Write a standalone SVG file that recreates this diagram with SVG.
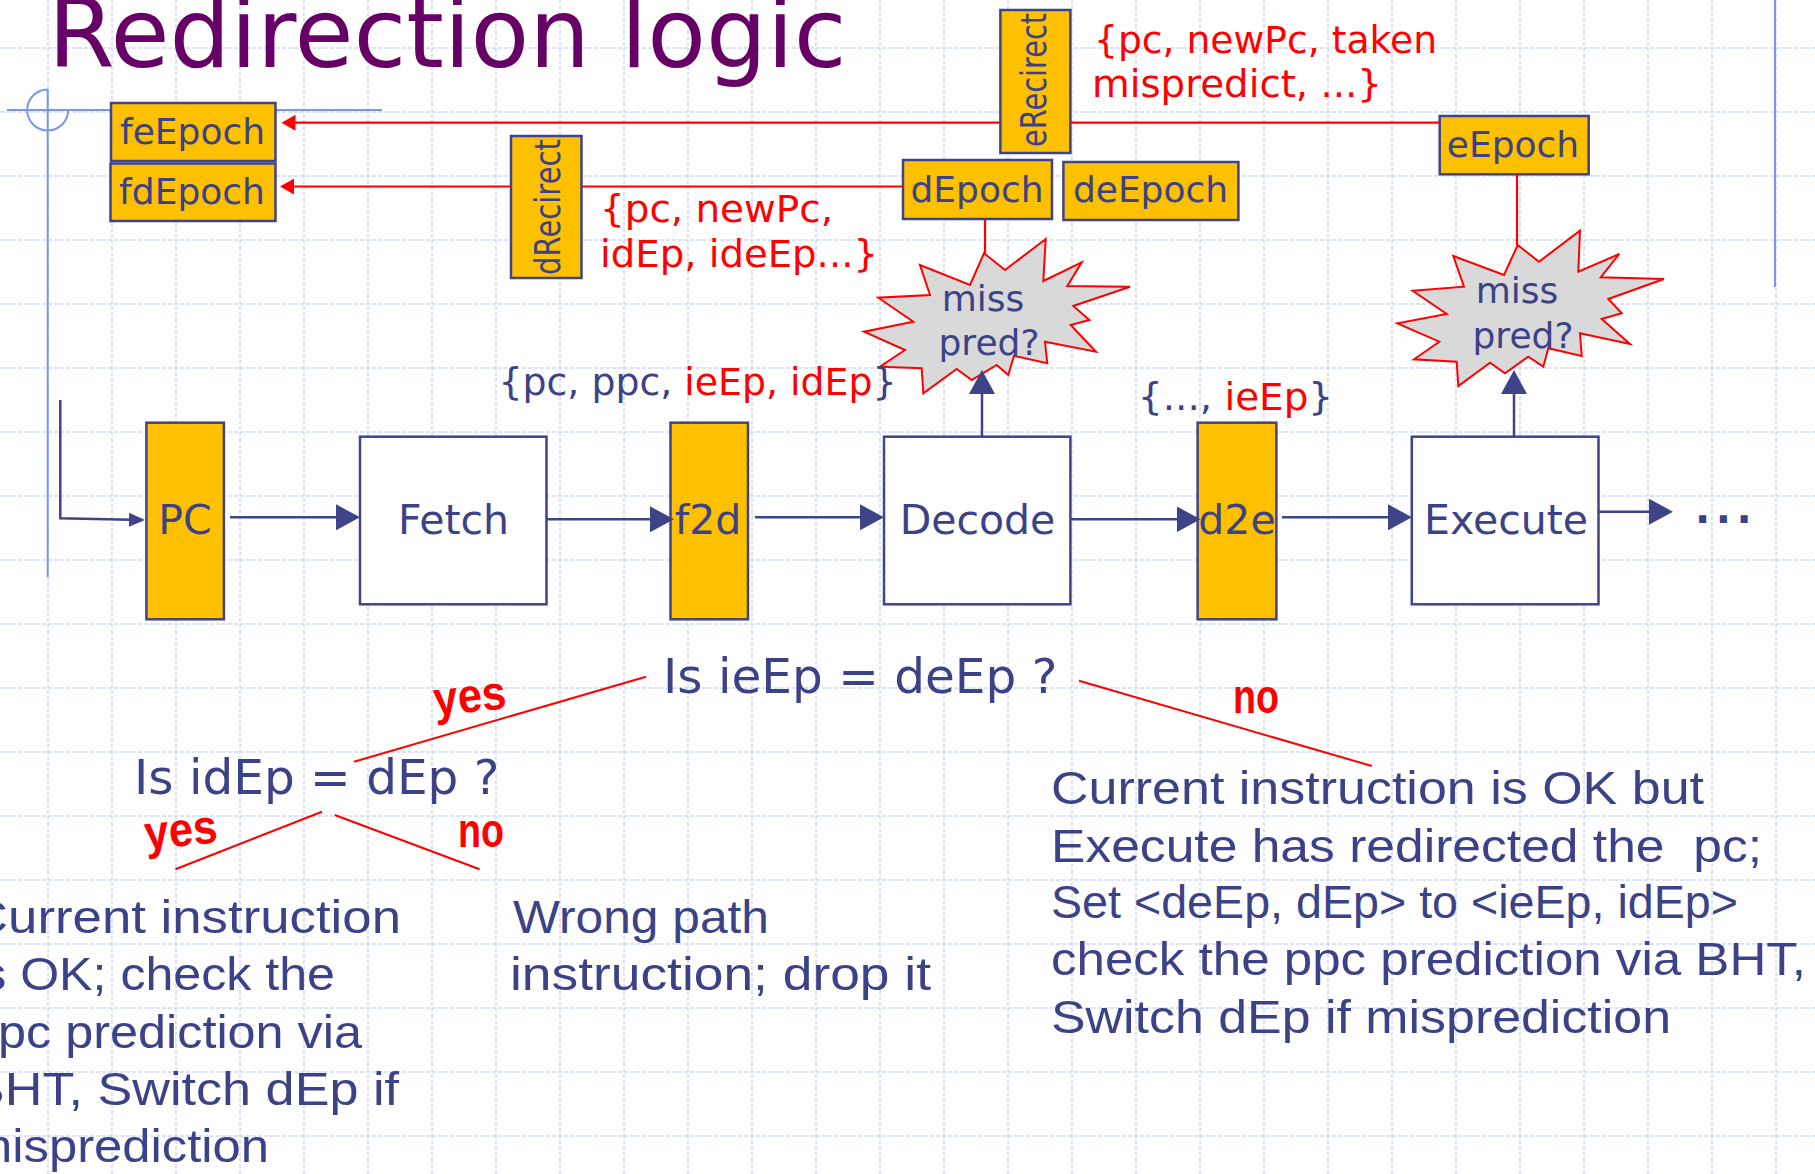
<svg xmlns="http://www.w3.org/2000/svg" width="1815" height="1174" viewBox="0 0 1815 1174">
  <style>
    .grid{fill:none;stroke:#cdd8f6;stroke-width:1.4;stroke-dasharray:4 2}
    .deco{fill:none;stroke:#7896ef;stroke-width:2}
    .reg{fill:#ffc000;stroke:#3e4487;stroke-width:2.5}
    .stage{fill:#ffffff;stroke:#3e4487;stroke-width:2.5}
    .burst{fill:#d9d9d9;stroke:#ff0000;stroke-width:2}
    text{font-family:"DejaVu Sans",Verdana,sans-serif}
    .lbl{fill:#3c4288}
    .big{font-size:41px;text-anchor:middle}
    .ep{font-size:36px;text-anchor:middle}
    .vt{font-size:36px}
    .rd{fill:#ff0000}
    .note{font-size:37px}
    .q{font-size:48.5px}
    .hand{font-family:"Comic Sans MS","Liberation Sans",sans-serif;font-size:46px;fill:#3c4288}
    .ans{font-family:"Comic Sans MS","Liberation Sans",sans-serif;font-size:48px;font-weight:bold;fill:#ff0000}
    .flow{fill:none;stroke:#3e4487;stroke-width:2.5}
    .wire{fill:none;stroke:#ff0000;stroke-width:2.2}
    .branch{fill:none;stroke:#ff0000;stroke-width:2}
  </style>
  <defs>
    <marker id="ah" markerUnits="userSpaceOnUse" viewBox="0 0 24 26" refX="20" refY="13" markerWidth="24" markerHeight="26" orient="auto">
      <path d="M0,0L24,13L0,26z" fill="#3e4487"/>
    </marker>
    <marker id="ahs" markerUnits="userSpaceOnUse" viewBox="0 0 16 14" refX="13" refY="7" markerWidth="16" markerHeight="14" orient="auto">
      <path d="M0,0L16,7L0,14z" fill="#3e4487"/>
    </marker>
    <marker id="ahr" markerUnits="userSpaceOnUse" viewBox="0 0 14 16" refX="11" refY="8" markerWidth="14" markerHeight="16" orient="auto">
      <path d="M0,0L14,8L0,16z" fill="#ff0000"/>
    </marker>
  </defs>

  <rect width="1815" height="1174" fill="#ffffff"/>

  <!-- background grid -->
  <path class="grid" d="M48 0V1174M112 0V1174M176 0V1174M240 0V1174M304 0V1174M368 0V1174M432 0V1174M496 0V1174M560 0V1174M624 0V1174M688 0V1174M752 0V1174M816 0V1174M880 0V1174M944 0V1174M1008 0V1174M1072 0V1174M1136 0V1174M1200 0V1174M1264 0V1174M1328 0V1174M1392 0V1174M1456 0V1174M1520 0V1174M1584 0V1174M1648 0V1174M1712 0V1174M1776 0V1174M0 48H1815M0 112H1815M0 176H1815M0 240H1815M0 304H1815M0 368H1815M0 432H1815M0 496H1815M0 560H1815M0 624H1815M0 688H1815M0 752H1815M0 816H1815M0 880H1815M0 944H1815M0 1008H1815M0 1072H1815M0 1136H1815"/>

  <!-- template decoration -->
  <path class="deco" d="M47.7,89 V577 M7,110 H382 M47.7,89.5 A20.5,20.5 0 1 0 68.2,110 M1775,0 V287"/>

  <text x="48" y="67" font-size="96" fill="#660066">Redirection logic</text>

  <!-- nodes -->
  <g id="feEpoch"><rect class="reg" x="111" y="103" width="164.5" height="58"/><text class="lbl ep" x="192.5" y="144">feEpoch</text></g>
  <g id="fdEpoch"><rect class="reg" x="110.5" y="163.5" width="165" height="57.5"/><text class="lbl ep" x="192" y="203.5">fdEpoch</text></g>
  <g id="dRecirect"><rect class="reg" x="511" y="136" width="70.5" height="142"/><text class="lbl vt" transform="translate(560,275) rotate(-90)" textLength="136" lengthAdjust="spacingAndGlyphs">dRecirect</text></g>
  <g id="eRecirect"><rect class="reg" x="1000.4" y="10" width="70" height="143"/><text class="lbl vt" transform="translate(1046,147) rotate(-90)" textLength="134" lengthAdjust="spacingAndGlyphs">eRecirect</text></g>
  <g id="dEpoch"><rect class="reg" x="903" y="160" width="149" height="59"/><text class="lbl ep" x="977" y="202">dEpoch</text></g>
  <g id="deEpoch"><rect class="reg" x="1063.4" y="162" width="175" height="58"/><text class="lbl ep" x="1150.5" y="202.3">deEpoch</text></g>
  <g id="eEpoch"><rect class="reg" x="1439.7" y="116" width="149" height="58.3"/><text class="lbl ep" x="1513" y="157">eEpoch</text></g>

  <g id="PC"><rect class="reg" x="146.4" y="422.7" width="77.5" height="196.6"/><text class="lbl big" x="185" y="534">PC</text></g>
  <g id="Fetch"><rect class="stage" x="360" y="436.7" width="186.5" height="167.6"/><text class="lbl big" x="453.5" y="534">Fetch</text></g>
  <g id="f2d"><rect class="reg" x="670.5" y="422.7" width="77.5" height="196.6"/><text class="lbl big" x="708" y="534">f2d</text></g>
  <g id="Decode"><rect class="stage" x="884" y="436.7" width="186.4" height="167.6"/><text class="lbl big" x="977.5" y="534">Decode</text></g>
  <g id="d2e"><rect class="reg" x="1197.6" y="422.7" width="78.8" height="196.6"/><text class="lbl big" x="1237" y="534">d2e</text></g>
  <g id="Execute"><rect class="stage" x="1411.8" y="436.7" width="186.7" height="167.6"/><text class="lbl big" x="1506" y="534">Execute</text></g>

  <g id="decodeMispred">
    <polygon class="burst" points="984,253.3 1005,270 1045.7,239 1043.3,281 1081.7,262.3 1067.3,286 1130,286.7 1073.3,306 1089.3,320 1070.7,325 1096,351.7 1045,341.7 1047.3,363.3 1014,355.7 1008.3,375 996.7,365 971.7,380 956.7,369 923.3,393.3 921.7,368.3 880,366.7 905,350 864,331.7 913.3,321.7 878.3,297.7 930,295 920,265 970,285"/>
    <text class="lbl ep" x="983" y="311">miss</text>
    <text class="lbl ep" x="989" y="355">pred?</text>
  </g>
  <g id="executeMispred">
    <polygon class="burst" points="1517.7,245 1539,261.7 1580,230.7 1578.3,271.7 1619.3,254 1600.7,277.3 1664,279 1608.3,299 1621.7,313.3 1601.7,319 1630,344 1580,333.3 1581.7,356 1548.3,348.3 1543.3,366.7 1528.3,356.7 1505,373.3 1490,362.7 1458.3,386 1456.7,361.7 1414,359.3 1439.3,341.7 1397.3,323.3 1446.7,314 1412.7,290.7 1464,286.7 1453.3,256 1504,275"/>
    <text class="lbl ep" x="1517" y="303">miss</text>
    <text class="lbl ep" x="1523" y="348">pred?</text>
  </g>

  <!-- connectors -->
  <g id="connectors">
    <path class="wire" d="M1440,122.7 H1070.4"/>
    <path class="wire" d="M1000.4,122.7 H284.5" marker-end="url(#ahr)"/>
    <path class="wire" d="M903,186.5 H581.5"/>
    <path class="wire" d="M511,186.5 H283" marker-end="url(#ahr)"/>
    <path class="wire" d="M985,219 V253.3"/>
    <path class="wire" d="M1517,174.3 V245"/>

    <path class="flow" d="M60.3,400 V518.3 L142,520" marker-end="url(#ahs)"/>
    <path class="flow" d="M230,517.3 H356" marker-end="url(#ah)"/>
    <path class="flow" d="M546.5,519.3 H670" marker-end="url(#ah)"/>
    <path class="flow" d="M755,517.3 H880" marker-end="url(#ah)"/>
    <path class="flow" d="M1070.4,519.3 H1196.5" marker-end="url(#ah)"/>
    <path class="flow" d="M1282,517.3 H1408" marker-end="url(#ah)"/>
    <path class="flow" d="M1598.5,511.7 H1669" marker-end="url(#ah)"/>
    <path class="flow" d="M982,436.7 V374" marker-end="url(#ah)"/>
    <path class="flow" d="M1514,436.7 V374" marker-end="url(#ah)"/>

    <path class="branch" d="M646,676.7 L354,761.7 M1079,680.7 L1371.8,766 M322,811.7 L175.4,869.3 M334.8,815 L479.6,869.3"/>
  </g>

  <!-- payload notes -->
  <g id="notes">
    <text class="note rd" x="1094" y="52.7" textLength="343" lengthAdjust="spacingAndGlyphs">{pc, newPc, taken</text>
    <text class="note rd" x="1092" y="96.7" textLength="290" lengthAdjust="spacingAndGlyphs">mispredict, ...}</text>
    <text class="note rd" x="600" y="222" textLength="233" lengthAdjust="spacingAndGlyphs">{pc, newPc,</text>
    <text class="note rd" x="600" y="267" textLength="278" lengthAdjust="spacingAndGlyphs">idEp, ideEp...}</text>
    <text class="note lbl" x="498.5" y="395" textLength="398" lengthAdjust="spacingAndGlyphs">{pc, ppc, <tspan class="rd">ieEp, idEp</tspan>}</text>
    <text class="note lbl" x="1138" y="410" textLength="195" lengthAdjust="spacingAndGlyphs">{..., <tspan class="rd">ieEp</tspan>}</text>
    <text class="lbl" x="1695" y="523.3" font-size="40" font-weight="bold" letter-spacing="5.5">...</text>
  </g>

  <!-- decision tree -->
  <g id="decisions">
    <text class="lbl q" x="663" y="693.3">Is ieEp = deEp ?</text>
    <text class="lbl q" x="134" y="793.5">Is idEp = dEp ?</text>
    <text class="ans" x="434" y="712" textLength="73" lengthAdjust="spacingAndGlyphs" transform="rotate(-6 470 705)">yes</text>
    <text class="ans" x="145" y="846" textLength="73" lengthAdjust="spacingAndGlyphs" transform="rotate(-6 181 838)">yes</text>
    <text class="ans" x="458" y="846.7" textLength="46" lengthAdjust="spacingAndGlyphs">no</text>
    <text class="ans" x="1233" y="712.7" textLength="46" lengthAdjust="spacingAndGlyphs">no</text>

    <text class="hand" x="-30" y="933" textLength="431" lengthAdjust="spacingAndGlyphs">Current instruction</text>
    <text class="hand" x="-30" y="990" textLength="365" lengthAdjust="spacingAndGlyphs">is OK; check the</text>
    <text class="hand" x="-30" y="1048" textLength="392" lengthAdjust="spacingAndGlyphs">ppc prediction via</text>
    <text class="hand" x="-30" y="1105" textLength="429" lengthAdjust="spacingAndGlyphs">BHT, Switch dEp if</text>
    <text class="hand" x="-30" y="1162" textLength="299" lengthAdjust="spacingAndGlyphs">misprediction</text>

    <text class="hand" x="513" y="933" textLength="256" lengthAdjust="spacingAndGlyphs">Wrong path</text>
    <text class="hand" x="510" y="990" textLength="421" lengthAdjust="spacingAndGlyphs">instruction; drop it</text>

    <text class="hand" x="1051" y="804" textLength="653" lengthAdjust="spacingAndGlyphs">Current instruction is OK but</text>
    <text class="hand" x="1051" y="862" textLength="711" lengthAdjust="spacingAndGlyphs" xml:space="preserve">Execute has redirected the  pc;</text>
    <text class="hand" x="1051" y="918" textLength="687" lengthAdjust="spacingAndGlyphs">Set &lt;deEp, dEp&gt; to &lt;ieEp, idEp&gt;</text>
    <text class="hand" x="1051" y="975" textLength="755" lengthAdjust="spacingAndGlyphs">check the ppc prediction via BHT,</text>
    <text class="hand" x="1051" y="1033" textLength="620" lengthAdjust="spacingAndGlyphs">Switch dEp if misprediction</text>
  </g>
</svg>
